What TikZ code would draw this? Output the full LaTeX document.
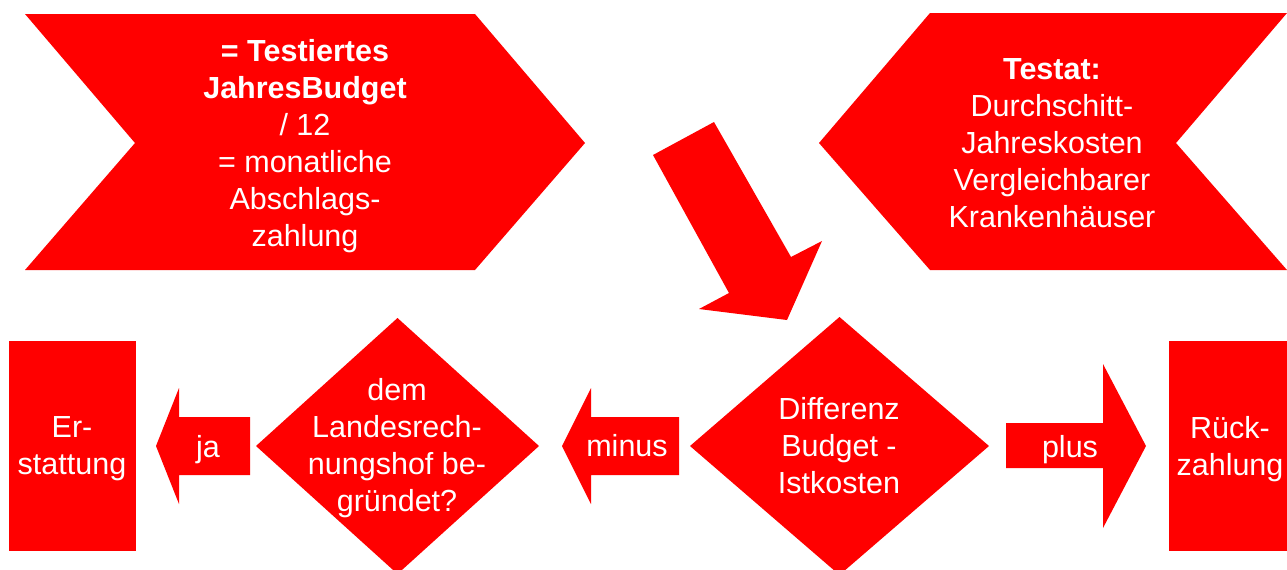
\documentclass[tikz,border=0pt]{standalone}
\usepackage{fontspec}
\setmainfont{Liberation Sans}
\usepackage{tikz}
\definecolor{boxred}{RGB}{255,0,0}

\begin{document}
\begin{tikzpicture}[x=0.5pt, y=-0.5pt,
    redshape/.style={fill=boxred},
    lbl/.style={text=white, align=center, inner sep=0pt, font=\fontsize{15.25}{18.5}\selectfont}]
      \useasboundingbox (0,0) rectangle (1287,569);
      \clip (0,0) rectangle (1287,569);
      % top row
      \fill[redshape] (25,14) -- (475,14) -- (585,143) -- (475,270) -- (25,270) -- (135,143) -- cycle;
      \fill[redshape] (819,143) -- (930,13) -- (1287,13) -- (1176,143) -- (1287,270) -- (930,270) -- cycle;
      \fill[redshape] (653,155) -- (714,122) -- (791,257) -- (822,241) -- (787,320) -- (699,309) -- (729,293) -- cycle;
      \node[lbl] (budget) at (305,146) {\textbf{= Testiertes}\\\textbf{JahresBudget}\\/ 12\\= monatliche\\Abschlags-\\zahlung};
      \node[lbl] (testat) at (1052,143) {\textbf{Testat:}\\Durchschitt-\\Jahreskosten\\Vergleichbarer\\Krankenhäuser};
      % bottom row
      \fill[redshape] (9,341) rectangle (136,551);
      \fill[redshape] (1169,341) rectangle (1296,551);
      \fill[redshape] (156,446) -- (179,388) -- (179,417) -- (250,417) -- (250,475) -- (179,475) -- (179,504) -- cycle;
      \fill[redshape] (397.5,318) -- (539,446) -- (397.5,574) -- (256,446) -- cycle;
      \fill[redshape] (562,446) -- (591,388) -- (591,417) -- (679,417) -- (679,475) -- (591,475) -- (591,504) -- cycle;
      \fill[redshape] (839.5,317) -- (989,446) -- (839.5,575) -- (690,446) -- cycle;
      \fill[redshape] (1006,423) -- (1103,423) -- (1103,364) -- (1146,446) -- (1103,528) -- (1103,468) -- (1006,468) -- cycle;
      \node[lbl] (erst) at (72,449) {Er-\\stattung};
      \node[lbl] (ja) at (208,450) {ja};
      \node[lbl] (lrh) at (397,448) {dem\\Landesrech-\\nungshof be-\\gründet?};
      \node[lbl] (minus) at (627,446) {minus};
      \node[lbl] (diff) at (839,446) {Differenz\\Budget -\\Istkosten};
      \node[lbl] (plus) at (1070,450) {plus};
      \node[lbl] (rueck) at (1230,449) {Rück-\\zahlung};
    \end{tikzpicture}
\end{document}
